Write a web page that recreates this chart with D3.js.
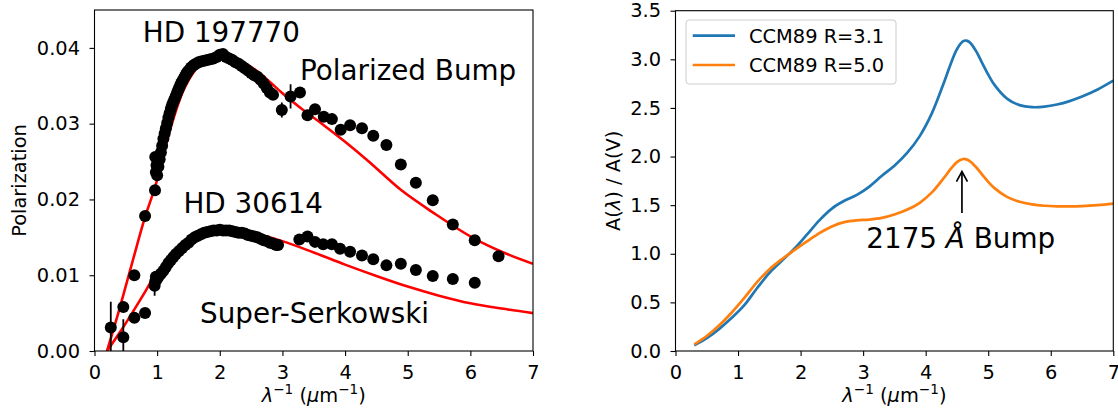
<!DOCTYPE html>
<html>
<head>
<meta charset="utf-8">
<script src="https://cdn.jsdelivr.net/npm/d3@7"></script>
<style>
  body { margin: 0; background: #fff; }
  svg { display: block; }
  text { font-family: "DejaVu Sans", sans-serif; fill: #000; }
</style>
</head>
<body>
<svg id="fig" width="1118" height="413"></svg>
<script>
// ---------- Left panel: polarization data (inverse wavelength, um^-1) ----------
const hd197770X = [0.26, 0.46, 0.636, 0.807, 0.966, 0.97, 0.98, 0.99,
  1.00, 1.02, 1.04, 1.06, 1.08, 1.10, 1.12, 1.14, 1.16, 1.18, 1.20, 1.22, 1.24, 1.26, 1.28, 1.30,
  1.32, 1.34, 1.36, 1.38, 1.40, 1.42, 1.44, 1.46, 1.48, 1.50, 1.54, 1.58, 1.62, 1.66, 1.70, 1.75,
  1.80, 1.85, 1.90, 1.95, 2.00, 2.05, 2.10, 2.15, 2.20, 2.25, 2.30, 2.35, 2.40, 2.45, 2.50, 2.55,
  2.60, 2.65, 2.70, 2.75, 2.80, 2.85, 2.99, 3.13, 3.28, 3.40, 3.52, 3.66, 3.79, 3.93, 4.08, 4.27,
  4.45, 4.66, 4.89, 5.13, 5.40, 5.72, 6.07, 6.45];
const hd197770P = [0.0031, 0.0058, 0.0100, 0.0178, 0.0212, 0.0256, 0.0236, 0.0245,
  0.0232, 0.0243, 0.0253, 0.0262, 0.0271, 0.0280, 0.0287, 0.0294, 0.0301, 0.0308, 0.0314, 0.0320, 0.0325, 0.0329, 0.0333, 0.0337,
  0.0341, 0.0345, 0.0349, 0.0353, 0.0356, 0.0359, 0.0362, 0.0365, 0.0368, 0.0370, 0.0374, 0.0377, 0.0379, 0.0381, 0.0382, 0.0383,
  0.0384, 0.0385, 0.0386, 0.0388, 0.0391, 0.0392, 0.0388, 0.0386, 0.0384, 0.0381, 0.0379, 0.0376, 0.0373, 0.0370, 0.0367, 0.0364,
  0.0362, 0.0358, 0.0353, 0.0347, 0.0341, 0.0338, 0.0318, 0.0336, 0.0341, 0.0311, 0.0319, 0.0309, 0.0306, 0.0292, 0.0298, 0.0294,
  0.0284, 0.0272, 0.0246, 0.0222, 0.0199, 0.0167, 0.0146, 0.0125];
// uncertainties large enough to show outside the markers
const hd197770ErrX = [0.26, 0.966, 2.99, 3.13];
const hd197770Err  = [0.0034, 0.0006, 0.0010, 0.0016];

const hd30614X = [0.46, 0.636, 0.807, 0.96, 0.97, 0.98, 1.00, 1.03, 1.06, 1.10, 1.14, 1.18, 1.22,
  1.26, 1.30, 1.35, 1.40, 1.45, 1.50, 1.55, 1.60, 1.65, 1.70, 1.75, 1.80, 1.85, 1.90, 1.95, 2.00,
  2.05, 2.10, 2.15, 2.20, 2.25, 2.30, 2.35, 2.40, 2.45, 2.50, 2.55, 2.60, 2.65, 2.70, 2.75, 2.80,
  2.85, 2.90, 2.93, 3.27, 3.40, 3.52, 3.65, 3.79, 3.92, 4.08, 4.27, 4.45, 4.66, 4.89, 5.13, 5.40,
  5.72, 6.07];
const hd30614P = [0.0018, 0.0044, 0.0050, 0.0086, 0.0092, 0.0098, 0.0095, 0.0099, 0.0102, 0.0106, 0.0111, 0.0116, 0.0120,
  0.0124, 0.0128, 0.0132, 0.0136, 0.0140, 0.0143, 0.0147, 0.0150, 0.0152, 0.0154, 0.0156, 0.0157, 0.0158, 0.0159, 0.0159, 0.0160,
  0.0159, 0.0159, 0.0159, 0.0158, 0.0157, 0.0156, 0.0156, 0.0155, 0.0153, 0.0152, 0.0151, 0.0150, 0.0148, 0.0146, 0.0145, 0.0143,
  0.0142, 0.0140, 0.0140, 0.0147, 0.0151, 0.0144, 0.0141, 0.0141, 0.0135, 0.0131, 0.0126, 0.0121, 0.0113, 0.0115, 0.0107, 0.0099,
  0.0095, 0.0090];
const hd30614ErrX = [0.46, 0.96];
const hd30614Err  = [0.0024, 0.0013];

// fitted polarization curves
const fit197770X = [0.2, 0.4, 0.6, 0.8, 1.0, 1.1, 1.2, 1.3, 1.4, 1.5, 1.6, 1.7, 1.8, 2.0, 2.2, 2.4, 2.6, 2.8, 3.0, 3.3, 3.66, 4.0, 4.35, 4.9, 5.4, 6.07, 6.5, 7.0];
const fit197770P = [0, 0.0056, 0.0116, 0.0175, 0.0226, 0.0260, 0.0290, 0.0317, 0.0340, 0.0357, 0.0370, 0.0379, 0.0384, 0.0389, 0.0387, 0.0380, 0.0369, 0.0355, 0.0340, 0.0320, 0.0298, 0.0276, 0.0252, 0.0212, 0.0183, 0.0148, 0.0131, 0.0115];
const fit30614X = [0.2, 0.4, 0.6, 0.8, 0.95, 1.1, 1.3, 1.5, 1.7, 1.9, 2.1, 2.3, 2.5, 2.75, 3.0, 3.5, 4.0, 4.5, 5.0, 5.5, 6.0, 6.5, 7.0];
const fit30614P = [0, 0.0024, 0.0050, 0.0077, 0.0098, 0.0114, 0.0131, 0.0143, 0.0152, 0.0157, 0.0159, 0.0158, 0.0156, 0.0151, 0.0145, 0.0130, 0.0114, 0.0099, 0.0085, 0.0073, 0.0063, 0.0056, 0.0050];

const leftXTicks = [0, 1, 2, 3, 4, 5, 6, 7];
const leftYTicks = [0, 0.01, 0.02, 0.03, 0.04];

// ---------- Right panel: CCM89 extinction curves ----------
const ccmX = [0.3, 0.5, 0.7, 0.9, 1.1, 1.3, 1.5, 1.7, 1.9, 2.1, 2.3, 2.5, 2.7, 2.9, 3.1, 3.3, 3.5, 3.7, 3.9, 4.1,
  4.3, 4.4, 4.5, 4.6, 4.65, 4.7, 4.8, 4.9, 5.0, 5.1, 5.3, 5.5, 5.7, 5.9, 6.1, 6.3, 6.5, 6.75, 7.0];
const ccmR31 = [0.058, 0.132, 0.228, 0.341, 0.471, 0.643, 0.802, 0.927, 1.052, 1.196, 1.344, 1.465, 1.545, 1.605, 1.691, 1.802, 1.905, 2.034, 2.205, 2.447,
  2.775, 2.953, 3.104, 3.186, 3.193, 3.177, 3.091, 2.967, 2.843, 2.737, 2.596, 2.529, 2.508, 2.513, 2.535, 2.570, 2.617, 2.690, 2.780];
const ccmR50 = [0.068, 0.154, 0.264, 0.396, 0.546, 0.706, 0.839, 0.944, 1.037, 1.127, 1.212, 1.281, 1.325, 1.344, 1.352, 1.369, 1.404, 1.452, 1.522, 1.631,
  1.787, 1.873, 1.943, 1.975, 1.971, 1.955, 1.895, 1.817, 1.740, 1.675, 1.585, 1.535, 1.508, 1.494, 1.488, 1.487, 1.490, 1.500, 1.516];
const ccmLabels = ["CCM89 R=3.1", "CCM89 R=5.0"];
const rightXTicks = [0, 1, 2, 3, 4, 5, 6, 7];
const rightYTicks = [0, 0.5, 1.0, 1.5, 2.0, 2.5, 3.0, 3.5];

// bump annotation: arrow tip / tail and label position (data coords)
const bumpArrow = { x: 4.58, yTip: 1.845, yTail: 1.42 };
const bumpLabel = { x: 4.56, y: 1.057, text: "2175 Å Bump" };

// ---------- drawing ----------
const svg = d3.select("#fig");
const TICK_FS = "19.4px", NOTE_FS = "27.8px";
const BLACK = "#000";

const xL = d3.scaleLinear().domain([0, 7]).range([94.5, 533]);
const yL = d3.scaleLinear().domain([0, 0.045]).range([351, 10]);
const xR = d3.scaleLinear().domain([0, 7]).range([675.5, 1113.3]);
const yR = d3.scaleLinear().domain([0, 3.5]).range([351, 10.7]);

function clipFor(id, xs, ys) {
  svg.append("clipPath").attr("id", id).append("rect")
    .attr("x", xs.range()[0]).attr("y", ys.range()[1])
    .attr("width", xs.range()[1] - xs.range()[0])
    .attr("height", ys.range()[0] - ys.range()[1]);
}
clipFor("clipL", xL, yL);
clipFor("clipR", xR, yR);

function drawAxes(xs, ys, xt, yt, yfmt) {
  const gx = svg.append("g").attr("transform", `translate(0,${ys.range()[0]})`)
    .call(d3.axisBottom(xs).tickValues(xt).tickFormat(d3.format("d")).tickSize(5).tickPadding(9.5).tickSizeOuter(0));
  const gy = svg.append("g").attr("transform", `translate(${xs.range()[0]},0)`)
    .call(d3.axisLeft(ys).tickValues(yt).tickFormat(d3.format(yfmt)).tickSize(5).tickPadding(9.5).tickSizeOuter(0));
  [gx, gy].forEach(g => {
    g.select(".domain").remove();
    g.selectAll("line").attr("stroke", BLACK).attr("stroke-width", 1.1);
    g.selectAll("text").style("font-size", TICK_FS).attr("fill", BLACK)
      .style("font-family", '"DejaVu Sans", sans-serif');
  });
}

function drawFrame(xs, ys) {
  svg.append("rect")
    .attr("x", xs.range()[0]).attr("y", ys.range()[1])
    .attr("width", xs.range()[1] - xs.range()[0])
    .attr("height", ys.range()[0] - ys.range()[1])
    .attr("fill", "none").attr("stroke", BLACK).attr("stroke-width", 1.1);
}

function xLabel(cx, y) {
  const t = svg.append("text").attr("x", cx).attr("y", y)
    .attr("text-anchor", "middle").style("font-size", TICK_FS);
  t.append("tspan").style("font-style", "italic").text("λ");
  t.append("tspan").attr("dy", -8).style("font-size", "13.6px").text("−1");
  t.append("tspan").attr("dy", 8).text(" (");
  t.append("tspan").style("font-style", "italic").text("μ");
  t.append("tspan").text("m");
  t.append("tspan").attr("dy", -8).style("font-size", "13.6px").text("−1");
  t.append("tspan").attr("dy", 8).text(")");
}

// ----- left panel -----
const lineL = d3.line().x(d => xL(d[0])).y(d => yL(d[1])).curve(d3.curveMonotoneX);
const gL = svg.append("g").attr("clip-path", "url(#clipL)");

[[fit197770X, fit197770P], [fit30614X, fit30614P]].forEach(([xs, ps]) => {
  gL.append("path").datum(xs.map((x, i) => [x, ps[i]]))
    .attr("d", lineL).attr("fill", "none").attr("stroke", "#ff0000").attr("stroke-width", 2.6);
});

function errBars(xs, ps, ex, ev) {
  ex.forEach((x, k) => {
    const i = xs.indexOf(x);
    gL.append("line")
      .attr("x1", xL(x)).attr("x2", xL(x))
      .attr("y1", yL(ps[i] - ev[k])).attr("y2", yL(ps[i] + ev[k]))
      .attr("stroke", BLACK).attr("stroke-width", 1.8);
  });
}
errBars(hd197770X, hd197770P, hd197770ErrX, hd197770Err);
errBars(hd30614X, hd30614P, hd30614ErrX, hd30614Err);

function dots(xs, ps) {
  gL.append("g").selectAll("circle").data(xs.map((x, i) => [x, ps[i]])).join("circle")
    .attr("cx", d => xL(d[0])).attr("cy", d => yL(d[1])).attr("r", 6).attr("fill", BLACK);
}
dots(hd197770X, hd197770P);
dots(hd30614X, hd30614P);

drawAxes(xL, yL, leftXTicks, leftYTicks, ".2f");
drawFrame(xL, yL);
xLabel((xL.range()[0] + xL.range()[1]) / 2, 402);
svg.append("text").attr("transform", `translate(26,${(yL.range()[0] + yL.range()[1]) / 2}) rotate(-90)`)
  .attr("text-anchor", "middle").style("font-size", TICK_FS).text("Polarization");

const leftNotes = [
  { x: 0.77, y: 0.04073, t: "HD 197770" },
  { x: 3.28, y: 0.03575, t: "Polarized Bump" },
  { x: 1.42, y: 0.01825, t: "HD 30614" },
  { x: 1.685, y: 0.00365, t: "Super-Serkowski" }
];
leftNotes.forEach(n => svg.append("text").attr("x", xL(n.x)).attr("y", yL(n.y))
  .style("font-size", NOTE_FS).text(n.t));

// ----- right panel -----
const lineR = d3.line().x(d => xR(d[0])).y(d => yR(d[1])).curve(d3.curveCatmullRom);
const gR = svg.append("g").attr("clip-path", "url(#clipR)");
const ccmColors = ["#1f77b4", "#ff7f0e"];
[ccmR31, ccmR50].forEach((ys, k) => {
  gR.append("path").datum(ccmX.map((x, i) => [x, ys[i]]))
    .attr("d", lineR).attr("fill", "none").attr("stroke", ccmColors[k])
    .attr("stroke-width", 2.7).attr("stroke-linejoin", "round");
});

drawAxes(xR, yR, rightXTicks, rightYTicks, ".1f");
drawFrame(xR, yR);
xLabel((xR.range()[0] + xR.range()[1]) / 2, 402);
{
  const t = svg.append("text").attr("transform", `translate(620,${(yR.range()[0] + yR.range()[1]) / 2}) rotate(-90)`)
    .attr("text-anchor", "middle").style("font-size", TICK_FS);
  t.append("tspan").text("A(");
  t.append("tspan").style("font-style", "italic").text("λ");
  t.append("tspan").text(") / A(V)");
}

// bump arrow
{
  const ax = xR(bumpArrow.x), tipY = yR(bumpArrow.yTip), tailY = yR(bumpArrow.yTail);
  svg.append("line").attr("x1", ax).attr("x2", ax).attr("y1", tailY).attr("y2", tipY + 0.5)
    .attr("stroke", BLACK).attr("stroke-width", 1.7);
  svg.append("path").attr("d", `M${ax - 5.5},${tipY + 10} L${ax},${tipY} L${ax + 5.5},${tipY + 10}`)
    .attr("fill", "none").attr("stroke", BLACK).attr("stroke-width", 1.7).attr("stroke-linejoin", "miter");
  const t = svg.append("text").attr("x", xR(bumpLabel.x)).attr("y", yR(bumpLabel.y))
    .attr("text-anchor", "middle").style("font-size", NOTE_FS);
  t.append("tspan").text("2175 ");
  t.append("tspan").style("font-style", "italic").text("Å");
  t.append("tspan").text(" Bump");
}

// legend
{
  const lg = svg.append("g");
  lg.append("rect").attr("x", 686).attr("y", 20).attr("width", 210).attr("height", 64)
    .attr("rx", 3).attr("fill", "#fff").attr("fill-opacity", 0.8)
    .attr("stroke", "#cccccc").attr("stroke-width", 1);
  ccmLabels.forEach((lab, k) => {
    const y = 35.7 + k * 29.3;
    lg.append("line").attr("x1", 692.7).attr("x2", 735).attr("y1", y).attr("y2", y)
      .attr("stroke", ccmColors[k]).attr("stroke-width", 2.7);
    lg.append("text").attr("x", 749).attr("y", y + 7.3).style("font-size", TICK_FS).text(lab);
  });
}
</script>
</body>
</html>
